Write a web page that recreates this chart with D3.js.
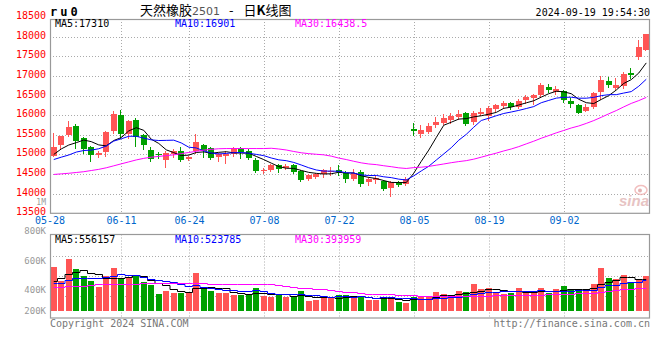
<!DOCTYPE html>
<html><head><meta charset="utf-8">
<script src="https://cdn.jsdelivr.net/npm/d3@7"></script>
<style>body{margin:0;background:#fff}svg{display:block}</style>
</head><body>
<svg id="c" width="660" height="360"></svg>
<script>
const dates = ["05-28","05-29","05-30","05-31","06-03","06-04","06-05","06-06","06-07","06-11","06-12","06-13","06-14","06-17","06-18","06-19","06-20","06-21","06-24","06-25","06-26","06-27","06-28","07-01","07-02","07-03","07-04","07-05","07-08","07-09","07-10","07-11","07-12","07-15","07-16","07-17","07-18","07-19","07-22","07-23","07-24","07-25","07-26","07-29","07-30","07-31","08-01","08-02","08-05","08-06","08-07","08-08","08-09","08-12","08-13","08-14","08-15","08-16","08-19","08-20","08-21","08-22","08-23","08-26","08-27","08-28","08-29","08-30","09-02","09-03","09-04","09-05","09-06","09-09","09-10","09-11","09-12","09-13","09-18","09-19"];
const open  = [14960,15240,15490,15730,15410,15190,14975,15060,15600,16000,15515,15880,15485,15110,15020,14870,15015,15100,14895,15085,15230,15155,14940,14955,15000,15170,15100,14870,14575,14600,14720,14660,14720,14575,14370,14420,14490,14545,14615,14530,14375,14565,14290,14360,14315,14135,14300,14255,15640,15515,15580,15750,15810,15870,15950,16050,15830,16025,15985,16155,16230,16305,16205,16385,16435,16520,16725,16580,16625,16365,16255,16110,16215,16600,16880,16700,16750,17075,17495,17665];
const high  = [15555,15470,15855,15770,15450,15215,15085,15600,16095,16140,15870,15925,15530,15180,15070,15085,15130,15190,14960,15515,15255,15190,15025,15085,15190,15195,15145,14915,14660,14745,14745,14760,14760,14615,14490,14530,14640,14675,14720,14575,14635,14615,14425,14460,14360,14315,14315,14420,15795,15745,15810,15965,16025,16050,16135,16070,16110,16195,16225,16280,16350,16335,16410,16505,16540,16820,16795,16745,16640,16435,16280,16280,16580,16990,16985,16940,17095,17205,17925,18075];
const low   = [14950,15130,15480,15170,15030,14830,14930,14955,15555,15430,15430,15215,15130,14845,14900,14675,14930,14845,14870,15045,14930,14895,14830,14780,14955,14915,14895,14545,14530,14575,14545,14630,14530,14315,14340,14400,14420,14485,14485,14290,14360,14205,14230,14275,14105,13950,14205,14230,15495,15455,15555,15710,15770,15810,15900,15745,15770,16000,15870,16095,16195,16155,16180,16305,16280,16495,16580,16540,16325,16215,16045,16095,16195,16410,16725,16665,16690,16950,17420,17650];
const close = [15190,15460,15700,15340,15145,14985,15045,15575,16025,15515,15840,15455,15240,14890,14975,15025,15100,14870,14940,15315,15100,14915,15000,15015,15170,15070,14915,14575,14615,14720,14630,14700,14555,14360,14470,14505,14615,14590,14545,14375,14530,14250,14375,14400,14120,14290,14230,14375,15600,15625,15725,15830,15940,15985,16025,15785,16050,16085,16180,16255,16305,16205,16350,16460,16520,16770,16640,16665,16385,16280,16060,16205,16555,16905,16770,16770,17050,17035,17750,18060];
// volume in thousands
const volume = [745,510,874,706,594,504,403,588,722,543,560,605,493,437,286,336,308,308,319,638,375,336,302,302,274,269,286,386,258,235,286,235,258,336,168,190,230,235,269,269,235,252,185,185,235,241,151,134,230,241,241,319,286,241,336,314,454,364,381,314,286,308,386,297,297,381,308,364,420,370,370,342,454,722,554,532,605,482,521,588];
// moving-average values for days before a full window exists
const ma5Head  = [15000,15140,15240,15300];
const ma10Head = [14870,14930,14985,15060,15100,15110,15145,15215,15340];
const ma30Head = [14490,14505,14520,14540,14560,14590,14620,14660,14710,14760,14810,14860,14900,14930,14950,14970,14990,15020,15050,15080,15110,15130,15145,15150,15150,15150,15150,15150,15150];
const vma5Head  = [510,560,628,661];
const vma10Head = [464,476,520,548,554,560,560,565,582];
const vma30Head = [398,398,420,420,426,437,448,448,448,448,454,459,465,465,465,465,465,465,465,465,465,459,459,459,459,455,455,452,450];

const yTicks = [13500,14000,14500,15000,15500,16000,16500,17000,17500,18000,18500];
const xTickDates = ["05-28","06-11","06-24","07-08","07-22","08-05","08-19","09-02"];
const volTickValues = [1000,800,600,400,200];
const volTickLabels = ["1M","800K","600K","400K","200K"];
const priceLegend = ["MA5:17310","MA10:16901","MA30:16438.5"];
const volLegend = ["MA5:556157","MA10:523785","MA30:393959"];

const UP = "#ff5555", DOWN = "#00a000";
const MA_COLORS = ["#000000","#0000ff","#ff00ff"];
const L = 50, R = 650, PT = 19, PB = 213.3, VT = 234.5, VB = 318, VBASE = 311;
const MONO = "'DejaVu Sans Mono', monospace";

function movingAvg(arr, n, head) {
  return arr.map((v, i) => i < n - 1 ? head[i] : d3.mean(arr.slice(i - n + 1, i + 1)));
}

const svg = d3.select("#c");
const x = d3.scaleBand().domain(dates).range([L, R]).paddingInner(0.2).paddingOuter(0.1);
const bw = x.bandwidth();
const cx = d => x(d) + bw / 2;
const y = d3.scaleLinear().domain([13500, 18500]).range([PB, 17.1]);
const vy = d3.scaleLinear().domain([0, 1000]).range([VBASE, VBASE - 1000 / 16.8]);
const volLabelY = d3.scaleLinear().domain([400, 1000]).range([293.3, 205]);

svg.append("defs").append("clipPath").attr("id", "pc")
  .append("rect").attr("x", L).attr("y", PT).attr("width", R - L).attr("height", PB - PT);
svg.select("defs").append("clipPath").attr("id", "vc")
  .append("rect").attr("x", L).attr("y", VT).attr("width", R - L).attr("height", VB - VT);

const grid = svg.append("g").attr("stroke", "#aaa").attr("stroke-dasharray", "1,2").attr("stroke-width", 1);
yTicks.forEach(v => {
  const yy = Math.round(y(v)) + 0.5;
  if (yy > PT + 1 && yy < PB - 1) grid.append("line").attr("x1", L).attr("x2", R).attr("y1", yy).attr("y2", yy);
});
const vGrid = d3.scaleLinear().domain([0, 4]).range([235.5, 315.5]);
[1, 2, 3].forEach(k => {
  const yy = Math.round(vGrid(k)) + 0.5;
  grid.append("line").attr("x1", L).attr("x2", R).attr("y1", yy).attr("y2", yy);
});
xTickDates.slice(1).forEach(d => {
  const xx = Math.round(cx(d)) + 0.5;
  grid.append("line").attr("x1", xx).attr("x2", xx).attr("y1", PT).attr("y2", PB);
  grid.append("line").attr("x1", xx).attr("x2", xx).attr("y1", VT).attr("y2", VB);
});

// candles
const cg = svg.append("g").attr("clip-path", "url(#pc)");
dates.forEach((d, i) => {
  const col = close[i] >= open[i] ? UP : DOWN;
  const x0 = Math.round(x(d));
  cg.append("line").attr("x1", x0 + 2.5).attr("x2", x0 + 2.5)
    .attr("y1", Math.round(y(high[i]))).attr("y2", Math.round(y(low[i])) + 1)
    .attr("stroke", col).attr("stroke-width", 1);
  const t = Math.round(y(Math.max(open[i], close[i])));
  const b = Math.round(y(Math.min(open[i], close[i])));
  cg.append("rect").attr("x", x0).attr("y", t).attr("width", bw).attr("height", Math.max(1, b - t)).attr("fill", col);
});

const pLine = d3.line().x((v, i) => cx(dates[i])).y(v => y(v));
[movingAvg(close, 5, ma5Head), movingAvg(close, 10, ma10Head), movingAvg(close, 30, ma30Head)].forEach((s, k) => {
  cg.append("path").attr("d", pLine(s)).attr("fill", "none").attr("stroke", MA_COLORS[k]).attr("stroke-width", 1);
});

// volume bars
const vg = svg.append("g").attr("clip-path", "url(#vc)");
dates.forEach((d, i) => {
  const col = close[i] >= open[i] ? UP : DOWN;
  const t = Math.round(vy(volume[i]));
  vg.append("rect").attr("x", Math.round(x(d))).attr("y", t).attr("width", bw).attr("height", VBASE - t).attr("fill", col);
});
const vLine = d3.line().x((v, i) => cx(dates[i])).y(v => Math.round(vy(v)) + 0.5).curve(d3.curveStep);
[movingAvg(volume, 5, vma5Head), movingAvg(volume, 10, vma10Head), movingAvg(volume, 30, vma30Head)].forEach((s, k) => {
  vg.append("path").attr("d", vLine(s)).attr("fill", "none").attr("stroke", MA_COLORS[k]).attr("stroke-width", 1);
});

// borders
svg.append("rect").attr("x", L + 0.5).attr("y", PT + 0.5).attr("width", R - L - 1).attr("height", PB - PT - 0.5)
  .attr("fill", "none").attr("stroke", "#999").attr("stroke-width", 1.2);
svg.append("rect").attr("x", L + 0.5).attr("y", VT).attr("width", R - L - 1).attr("height", VB - VT)
  .attr("fill", "none").attr("stroke", "#999").attr("stroke-width", 1.2);

// axis labels
const tg = svg.append("g").attr("font-family", MONO).attr("font-size", 10);
yTicks.forEach(v => {
  tg.append("text").attr("x", 46).attr("y", y(v) + 2).attr("text-anchor", "end").attr("fill", "#ff0000").text(v);
});
volTickValues.forEach((v, k) => {
  tg.append("text").attr("x", 46).attr("y", Math.min(volLabelY(v), 314.3)).attr("text-anchor", "end")
    .attr("font-size", k === 0 ? 8 : 9).attr("fill", "#999").text(volTickLabels[k]);
});
xTickDates.forEach((d, k) => {
  const xx = k === 0 ? L : Math.round(cx(d)) + 0.5;
  tg.append("text").attr("x", xx).attr("y", 224).attr("text-anchor", "middle").attr("fill", "#0066cc").text(d);
});
const legX = [55, 175, 295];
priceLegend.forEach((s, k) => tg.append("text").attr("x", legX[k]).attr("y", 27).attr("fill", MA_COLORS[k]).text(s));
volLegend.forEach((s, k) => tg.append("text").attr("x", legX[k]).attr("y", 242.5).attr("fill", MA_COLORS[k]).text(s));

// header
svg.append("text").attr("x", 50).attr("y", 16).attr("font-family", MONO).attr("font-weight", "bold")
  .attr("font-size", 12).attr("letter-spacing", 3).attr("fill", "#000").text("ru0");
const title = svg.append("text").attr("x", 140).attr("y", 15).attr("font-family", "'Noto Sans CJK SC', sans-serif")
  .attr("font-size", 13).attr("fill", "#000");
title.append("tspan").text("天然橡胶");
title.append("tspan").attr("fill", "#555").attr("font-family", "'DejaVu Sans', sans-serif").attr("font-size", 11).text("2501");
title.append("tspan").attr("dx", 9).text("-");
title.append("tspan").attr("dx", 10).text("日");
title.append("tspan").attr("font-weight", "bold").text("K");
title.append("tspan").text("线图");
svg.append("text").attr("x", 650).attr("y", 16).attr("text-anchor", "end").attr("font-family", MONO)
  .attr("font-size", 10).attr("fill", "#000").text("2024-09-19 19:54:30");

// footer
svg.append("text").attr("x", 50).attr("y", 327).attr("font-family", MONO).attr("font-size", 10)
  .attr("fill", "#777").text("Copyright 2024 SINA.COM");
svg.append("text").attr("x", 650).attr("y", 327).attr("text-anchor", "end").attr("font-family", MONO)
  .attr("font-size", 10).attr("fill", "#777").text("http://finance.sina.com.cn");

// watermark
const wm = svg.append("g").attr("opacity", 0.75);
wm.append("ellipse").attr("cx", 641).attr("cy", 190).attr("rx", 6).attr("ry", 4.5).attr("fill", "none").attr("stroke", "#eeaaaa").attr("stroke-width", 1.5);
wm.append("circle").attr("cx", 640).attr("cy", 190.5).attr("r", 2).attr("fill", "#dd9999");
wm.append("text").attr("x", 619).attr("y", 206).attr("font-family", "'Liberation Sans', sans-serif").attr("font-style", "italic")
  .attr("font-weight", "bold").attr("font-size", 15).attr("fill", "#e0b0b0").text("sina");
</script>
</body></html>
